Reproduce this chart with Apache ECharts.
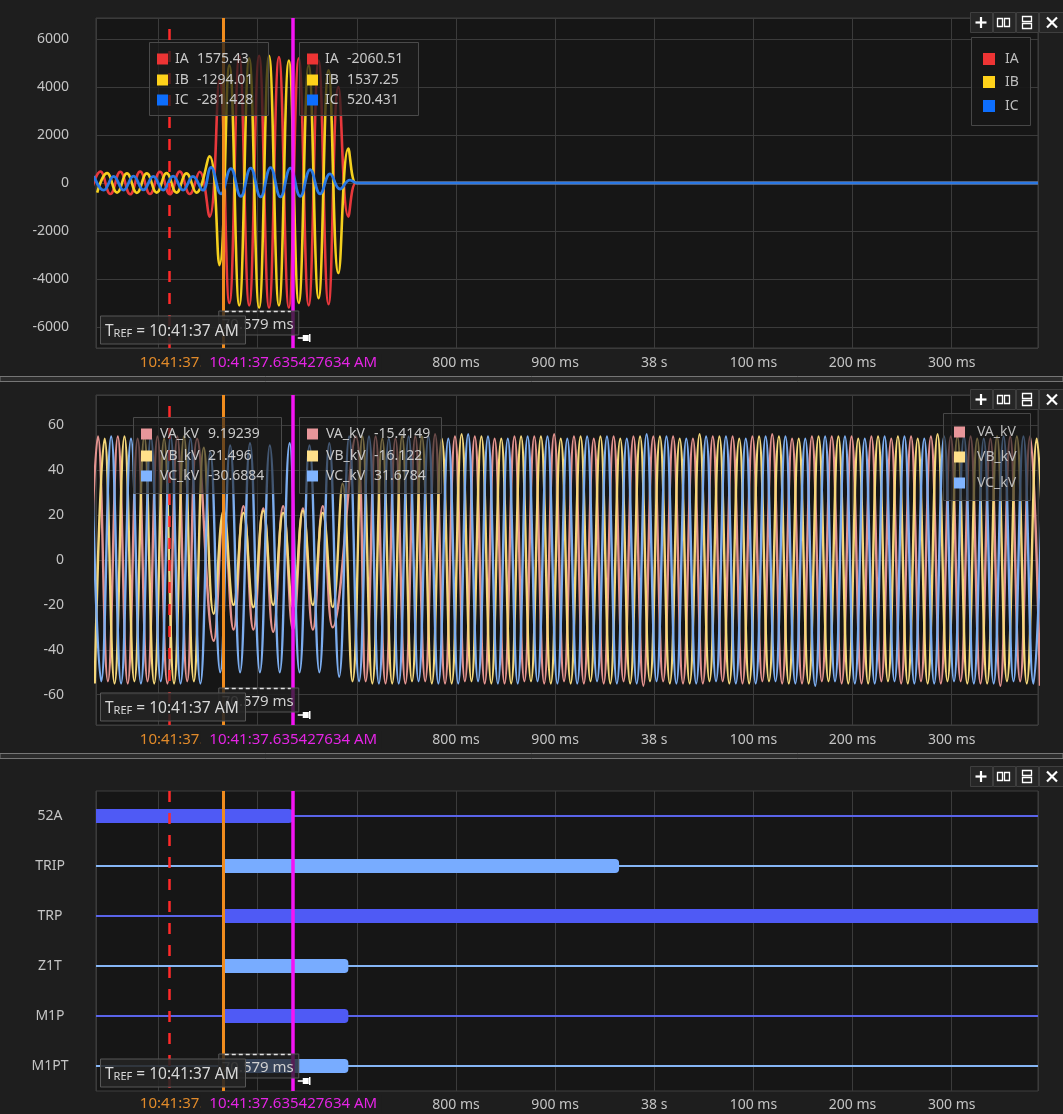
<!DOCTYPE html>
<html><head><meta charset="utf-8">
<script src="https://cdn.jsdelivr.net/npm/echarts@6/dist/echarts.min.js"></script>
<style>html,body{margin:0;padding:0;background:#1e1e1e;overflow:hidden}#c{width:1063px;height:1114px}</style>
</head><body><div id="c"></div>
<script>
// ---------- DATA (time in ms after 10:41:37) ----------
const X_MIN = 437, X_MAX = 1387;
const xTickValues = [800, 900, 1000, 1100, 1200, 1300];
const xTickTexts = ['800 ms', '900 ms', '38 s', '100 ms', '200 ms', '300 ms'];
const T_TRIGGER = 510.5, T_ORANGE = 564.848634, T_MAGENTA = 635.427634;
const orangeLabel = '10:41:37.564848634 AM';
const magentaLabel = '10:41:37.635427634 AM';
const deltaLabel = '70.579 ms';
const trefLabel = '10:41:37 AM';

// Currents (A) : [time ms, value] at successive extrema
const iaData = [[431.5,-470],[441.5,480],[451.5,-460],[461.5,470],[471.5,-470],[481.5,480],[491.5,-460],[501.5,470],[511.5,-470],[521.5,480],[531.5,-460],[541.5,470],[551.5,-1400],[561.5,4300],[571.5,-5000],[581.5,5300],[591.5,-5100],[601.5,5300],[611.5,-5200],[621.5,5250],[631.5,-5200],[641.5,5200],[651.5,-5100],[661.5,5100],[671.5,-5050],[681.5,4000],[691.5,-1400],[699,0],[704,0],[1387,0]];
const ibData = [[438.2,-400],[448.2,410],[458.2,-400],[468.2,400],[478.2,-410],[488.2,400],[498.2,-400],[508.2,410],[518.2,-400],[528.2,400],[538.2,-400],[551.5,1110],[561.5,-3420],[571.5,4900],[581.5,-5100],[591.5,5200],[601.5,-5200],[611.5,5300],[621.5,-5100],[631.5,5100],[641.5,-5000],[651.5,4900],[661.5,-4800],[671.5,4700],[681.5,-3750],[691.5,1440],[699,0],[704,0],[1387,0]];
const icData = [[434.8,290],[444.8,-300],[454.8,280],[464.8,-300],[474.8,290],[484.8,-290],[494.8,280],[504.8,-300],[514.8,290],[524.8,-300],[534.8,280],[544.8,-300],[553,650],[563,-450],[573,600],[583,-560],[593,620],[603,-580],[613,640],[623,-580],[633,620],[643,-560],[653,560],[663,-450],[673,380],[683,-250],[693,120],[700,0],[705,0],[1387,0]];

// Voltages (kV): successive extrema every HALF_PERIOD ms from a start time
const HALF_PERIOD = 10;
const VA_PRE_T0 = 429, VA_FAULT_T0 = 555.7, VA_POST_T0 = 699;
const vaPre = [-54,55,-54,55,-55,54,-54,55,-55,55,-54,54];
const vaFault = [-36,20,-31,24,-31,23,-32,24,-31,23,-31,24,-30];
const vaPost = [55,-54,55,-55,54,-55,55,-54,56,-55,55,-54,55,-55,54,-55,55,-54,55,-55,56,-54,55,-55,54,-55,55,-54,55,-56,55,-54,55,-55,54,-55,55,-54,55,-55,55,-54,56,-55,54,-55,55,-54,55,-55,55,-55,55,-54,54,-55,55,-54,55,-55,55,-54,55,-55,54,-56,55,-54,55,-56];
const VB_T0 = 435.7;
const vbPre = [-55,54,-55,55,-54,55,-55,54,-55,55,-54,50];
const vbFault = [-24,22,-20,21,-21,22,-20,21,-21,22,-20,21,-21,34];
const vbPost = [-54,55,-55,54,-55,55,-54,55,-55,54,-55,56,-54,55,-55,54,-55,55,-54,55,-55,54,-55,55,-54,55,-55,54,-55,55,-54,55,-55,54,-55,56,-54,55,-55,54,-55,55,-54,55,-55,54,-55,55,-54,55,-55,54,-55,55,-54,55,-55,54,-55,56,-54,55,-55,54,-55,55,-54,55,-55,54,-55];
const VC_T0 = 432.3;
const vcPre = [55,-54,55,-55,54,-55,55,-54,55,-55,54,-55];
const vcFault = [48,-50,51,-50,52,-50,51,-50,52,-50,51,-50,52,-52];
const vcPost = [55,-54,55,-55,54,-55,55,-54,55,-55,54,-55,56,-54,55,-55,54,-55,55,-54,55,-55,54,-55,55,-54,55,-55,54,-55,56,-54,55,-55,54,-55,55,-54,55,-55,54,-55,55,-54,55,-55,54,-56,55,-54,55,-55,54,-55,55,-54,55,-55,54,-55,55,-54,55,-55,54,-55,55,-54,55,-55,54];

// Digital channels: [time, state] transitions
const digitalChannels = ['52A', 'TRIP', 'TRP', 'Z1T', 'M1P', 'M1PT'];
const RECORD_END = 1387;
const digitalTransitions = [
  [[437,1],[635.4,0]],
  [[437,0],[565.5,1],[964.5,0]],
  [[437,0],[565.5,1]],
  [[437,0],[565.5,1],[691.5,0]],
  [[437,0],[565.5,1],[691.5,0]],
  [[437,0],[565.5,1],[691.5,0]]
];

// Cursor readouts
const currentNames = ['IA', 'IB', 'IC'];
const cursor1Currents = ['1575.43', '-1294.01', '-281.428'];
const cursor2Currents = ['-2060.51', '1537.25', '520.431'];
const voltNames = ['VA_kV', 'VB_kV', 'VC_kV'];
const cursor1Volts = ['9.19239', '21.496', '-30.6884'];
const cursor2Volts = ['-15.4149', '-16.122', '31.6784'];

// ---------- STYLE ----------
const FONT = '"Noto Sans", "DejaVu Sans", sans-serif';
const currentColors = ['#e8383c', '#f5d01e', '#2a78e4'];
const currentSwatch = ['#ee3434', '#ffd21a', '#0d6efd'];
const voltColors = ['#e3938f', '#f5d77a', '#7cadef'];
const voltSwatch = ['#e8969a', '#ffe08a', '#80b4ff'];
const digitalBarColors = ['#4f5af5', '#78acff', '#4f5af5', '#78acff', '#4f5af5', '#78acff'];
const digitalThinColors = ['#5a64ea', '#86b6f5', '#5a64ea', '#86b6f5', '#5a64ea', '#86b6f5'];

function seg(t0, vals) { return vals.map((v, i) => [t0 + i * HALF_PERIOD, v]); }
const vaData = seg(VA_PRE_T0, vaPre).concat(seg(VA_FAULT_T0, vaFault), seg(VA_POST_T0, vaPost));
const vbData = seg(VB_T0, vbPre.concat(vbFault, vbPost));
const vcData = seg(VC_T0, vcPre.concat(vcFault, vcPost));

const grids = [
  {left: 96, top: 18, width: 942, height: 330},
  {left: 96, top: 395, width: 942, height: 330},
  {left: 96, top: 791, width: 942, height: 300}
];

function makeX(gi) {
  return {type: 'value', gridIndex: gi, min: X_MIN, max: X_MAX, minInterval: 100, maxInterval: 100,
    axisLine: {show: false}, axisTick: {show: false},
    splitLine: {show: true, lineStyle: {color: '#3b3b3b', width: 1}},
    axisLabel: {color: '#c4c4c4', fontSize: 14, fontFamily: FONT, margin: gi === 2 ? 7 : 8,
      formatter: v => { const i = xTickValues.indexOf(Math.round(v)); return i >= 0 ? xTickTexts[i] : ''; }}
  };
}
const cursorMark = {
  symbol: ['none', 'none'], silent: true, animation: false, label: {show: false}, z: 5,
  emphasis: {disabled: true},
  data: [
    {xAxis: T_TRIGGER, lineStyle: {color: '#ff2a2a', type: [11, 11], width: 2.5}},
    {xAxis: T_ORANGE, lineStyle: {color: '#f08c1e', type: 'solid', width: 3}},
    {xAxis: T_MAGENTA, lineStyle: {color: '#f414f4', type: 'solid', width: 3.5}}
  ]
};
function lineS(name, data, color, gi, mark, w) {
  const s = {name, type: 'line', xAxisIndex: gi, yAxisIndex: gi, data, smooth: 0.45, showSymbol: false, symbol: 'none',
    lineStyle: {color, width: w || 2.4}, itemStyle: {color}, silent: true, animation: false, z: 2};
  if (mark) s.markLine = cursorMark;
  return s;
}

const series = [
  lineS('IA', iaData, currentColors[0], 0, false, 2.6),
  lineS('IB', ibData, currentColors[1], 0, false, 2.6),
  lineS('IC', icData, currentColors[2], 0, true, 2.8),
  lineS('VA_kV', vaData, voltColors[0], 1, false, 2.4),
  lineS('VB_kV', vbData, voltColors[1], 1, false, 2.4),
  lineS('VC_kV', vcData, voltColors[2], 1, true, 2.4)
];
const barItems = [];
digitalChannels.forEach((ch, i) => {
  const tr = digitalTransitions[i];
  const s = {type: 'line', xAxisIndex: 2, yAxisIndex: 2, data: [[tr[0][0], ch], [RECORD_END, ch]],
    showSymbol: false, symbol: 'none', lineStyle: {color: digitalThinColors[i], width: 2}, silent: true, animation: false, z: 2};
  if (i === 0) s.markLine = cursorMark;
  series.push(s);
  tr.forEach((t, k) => {
    if (t[1] === 1) barItems.push([i, t[0], k + 1 < tr.length ? tr[k + 1][0] : RECORD_END]);
  });
});
series.push({
  type: 'custom', xAxisIndex: 2, yAxisIndex: 2, data: barItems, encode: {x: [1, 2], y: 0}, z: 3, silent: true, animation: false,
  renderItem: function (params, api) {
    const ch = api.value(0), s = api.value(1), e = api.value(2);
    const p1 = api.coord([s, ch]), p2 = api.coord([e, ch]);
    const h = 14;
    const cs = params.coordSys;
    const rect = echarts.graphic.clipRectByRect({x: p1[0], y: p1[1] - h / 2, width: p2[0] - p1[0], height: h},
      {x: cs.x, y: cs.y, width: cs.width, height: cs.height});
    if (!rect) return;
    rect.r = e >= RECORD_END ? 0 : [0, 4, 4, 0];
    return {type: 'rect', shape: rect, style: {fill: digitalBarColors[ch]}};
  }
});

const option = {
  backgroundColor: '#1e1e1e', animation: false,
  grid: grids.map(g => Object.assign({show: true, backgroundColor: '#161616', borderColor: '#3e3e3e', borderWidth: 1}, g)),
  xAxis: [makeX(0), makeX(1), makeX(2)],
  yAxis: [
    {type: 'value', gridIndex: 0, min: -6875, max: 6875, minInterval: 2000, maxInterval: 2000,
      axisLine: {show: false}, axisTick: {show: false}, splitLine: {lineStyle: {color: '#3b3b3b'}},
      axisLabel: {color: '#c4c4c4', fontSize: 14, fontFamily: FONT, margin: 27, formatter: v => (v % 2000 === 0 ? String(v) : '')}},
    {type: 'value', gridIndex: 1, min: -73.5, max: 73.5, minInterval: 20, maxInterval: 20,
      axisLine: {show: false}, axisTick: {show: false}, splitLine: {lineStyle: {color: '#3b3b3b'}},
      axisLabel: {color: '#c4c4c4', fontSize: 14, fontFamily: FONT, margin: 32, formatter: v => (v % 20 === 0 ? String(v) : '')}},
    {type: 'category', gridIndex: 2, data: digitalChannels, inverse: true, boundaryGap: true,
      axisLine: {show: false}, axisTick: {show: false}, splitLine: {show: false},
      axisLabel: {color: '#c4c4c4', fontSize: 14, fontFamily: FONT, margin: 46, align: 'center'}}
  ],
  series
};

const chart = echarts.init(document.getElementById('c'));
chart.setOption(option);

// ---------- OVERLAYS ----------
const ox = chart.convertToPixel({xAxisIndex: 0}, T_ORANGE);
const mx = chart.convertToPixel({xAxisIndex: 0}, T_MAGENTA);
const G = [];
function rect(x, y, w, h, fill, stroke, z) { G.push({type: 'rect', silent: true, z: z || 100, shape: {x, y, width: w, height: h}, style: {fill, stroke: stroke || null, lineWidth: 1}}); }
function text(x, y, t, opt) { G.push({type: 'text', silent: true, z: (opt && opt.z) || 104, x, y, style: Object.assign({text: t, fill: '#c8c8c8', fontSize: 14, fontFamily: FONT, align: 'left', verticalAlign: 'middle'}, opt || {})}); }
function line(x1, y1, x2, y2, stroke, w, dash, z) { G.push({type: 'line', silent: true, z: z || 104, shape: {x1, y1, x2, y2}, style: {stroke, lineWidth: w, lineDash: dash || null}}); }

function toolbar(y) {
  const xs = [970, 993, 1016, 1039], ws = [22, 22, 22, 24];
  xs.forEach((x, i) => rect(x + 0.5, y + 0.5, ws[i], 20, '#262626', '#3f3f3f', 110));
  const cy = y + 10.5;
  line(975.5, cy, 986.5, cy, '#fff', 2.2, null, 111);
  line(981, cy - 5.5, 981, cy + 5.5, '#fff', 2.2, null, 111);
  G.push({type: 'rect', silent: true, z: 111, shape: {x: 997.5, y: cy - 4, width: 5, height: 8}, style: {fill: 'none', stroke: '#fff', lineWidth: 1.3}});
  G.push({type: 'rect', silent: true, z: 111, shape: {x: 1004.5, y: cy - 4, width: 5, height: 8}, style: {fill: 'none', stroke: '#fff', lineWidth: 1.3}});
  G.push({type: 'rect', silent: true, z: 111, shape: {x: 1022.5, y: cy - 6, width: 9, height: 5}, style: {fill: 'none', stroke: '#fff', lineWidth: 1.3}});
  G.push({type: 'rect', silent: true, z: 111, shape: {x: 1022.5, y: cy + 1, width: 9, height: 5}, style: {fill: 'none', stroke: '#fff', lineWidth: 1.3}});
  line(1047, cy - 5, 1057, cy + 5, '#fff', 2.2, null, 111);
  line(1057, cy - 5, 1047, cy + 5, '#fff', 2.2, null, 111);
}
function cursorDecor(bottom, labelY) {
  // delta box
  rect(ox - 4, bottom - 37, (mx - ox) + 10, 24, 'rgba(32,32,32,0.75)', '#555555', 100);
  line(ox + 2, bottom - 36.5, mx - 2, bottom - 36.5, '#e0e0e0', 1.5, [4, 3], 101);
  text(mx + 1, bottom - 23, deltaLabel, {align: 'right', z: 101, fill: '#d0d0d0', fontSize: 15});
  // TREF box
  rect(100.5, bottom - 32, 145, 28, 'rgba(36,36,36,0.88)', '#575757', 102);
  G.push({type: 'text', silent: true, z: 103, x: 105, y: bottom - 18, style: {
    text: '{t|T}{s|REF}{t| = ' + trefLabel + '}', verticalAlign: 'middle', align: 'left',
    rich: {t: {fontSize: 15.5, fontFamily: FONT, fill: '#d8d8d8', lineHeight: 19, verticalAlign: 'bottom'},
           s: {fontSize: 11, fontFamily: FONT, fill: '#d8d8d8', lineHeight: 8, verticalAlign: 'bottom'}}}});
  // pin icon
  const py = bottom - 10;
  line(mx + 5, py, mx + 11, py, '#ffffff', 1.5, null, 105);
  rect(mx + 10, py - 3, 6, 6, '#ffffff', null, 105);
  line(mx + 17, py - 4, mx + 17, py + 4, '#ffffff', 1.5, null, 105);
  // time labels
  text(ox + 1, labelY, orangeLabel, {align: 'center', fill: '#e08a2a', z: 104, fontSize: 15});
  text(mx - 2, labelY, magentaLabel, {align: 'center', fill: '#e424e4', z: 105, fontSize: 15, backgroundColor: '#1e1e1e', padding: [1, 4, 1, 9]});
}
function readout(x, y, w, h, rows, sx, nx, vx, names, vals, colors, fill) {
  rect(x + 0.5, y + 0.5, w, h, fill, '#4a4a4a', 100);
  rows.forEach((ry, i) => {
    rect(sx, ry - 5.5, 11, 11, colors[i], null, 101);
    text(nx, ry, names[i], {z: 102});
    text(vx, ry, vals[i], {z: 102});
  });
}

// separators
rect(0, 376.5, 1063, 5, '#2c2c2c', '#767676', 90);
rect(0, 753.5, 1063, 5, '#2c2c2c', '#767676', 90);

// panel 1
toolbar(12);
rect(971.5, 37.5, 59, 88, 'rgba(24,24,24,0.92)', '#474747', 100);
[59, 82, 106].forEach((ry, i) => { rect(983, ry - 6, 12, 12, currentSwatch[i], null, 101); text(1005, ry, currentNames[i], {fill: '#bdbdbd', z: 102}); });
readout(149, 42, 119, 73, [59, 80, 100], 157, 175, 197, currentNames, cursor1Currents, currentSwatch, 'rgba(28,28,28,0.72)');
readout(299, 42, 119, 73, [59, 80, 100], 307, 325, 347, currentNames, cursor2Currents, currentSwatch, 'rgba(28,28,28,0.72)');
cursorDecor(348, 363);

// panel 2
toolbar(389);
rect(943.5, 413.5, 87, 87, 'rgba(26,26,26,0.62)', '#474747', 100);
[432, 457, 483].forEach((ry, i) => { rect(954, ry - 5.5, 11, 11, voltSwatch[i], null, 101); text(977, ry, voltNames[i], {fill: '#bdbdbd', z: 102}); });
readout(133, 417, 148, 76, [434, 456, 476], 141, 160, 208, voltNames, cursor1Volts, voltSwatch, 'rgba(28,28,28,0.6)');
readout(299, 417, 142, 76, [434, 456, 476], 307, 326, 374, voltNames, cursor2Volts, voltSwatch, 'rgba(28,28,28,0.6)');
cursorDecor(725, 740);

// panel 3
toolbar(766);
cursorDecor(1091, 1104);

chart.setOption({graphic: {elements: G}});
</script>
</body></html>
